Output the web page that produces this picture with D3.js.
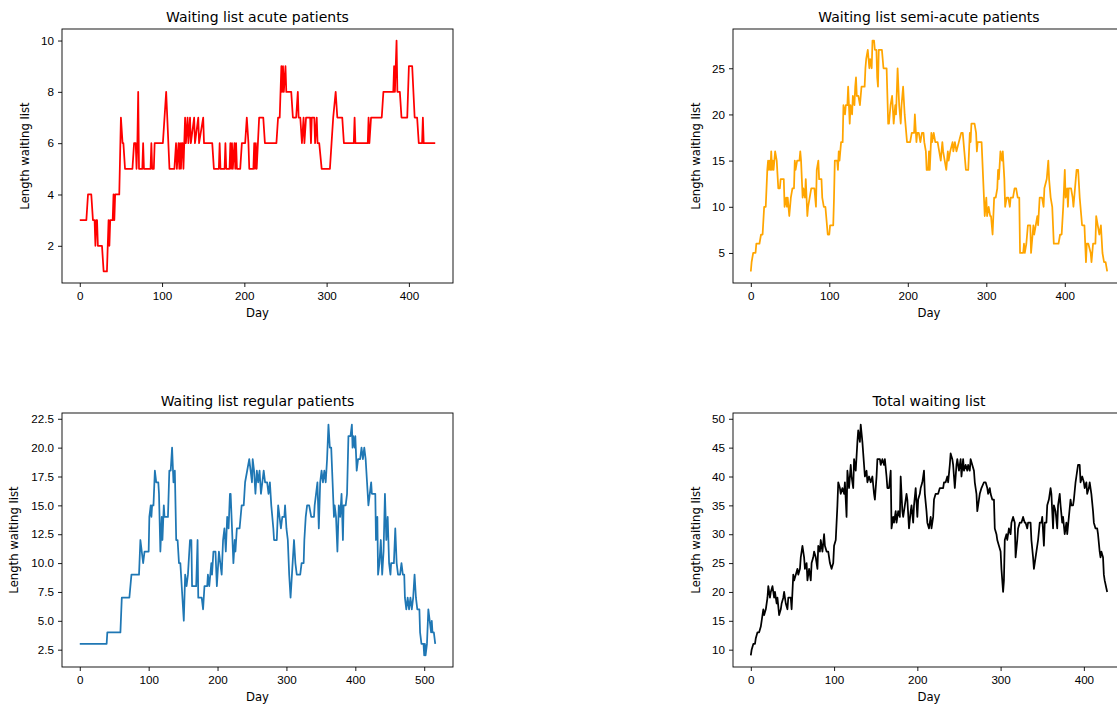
<!DOCTYPE html>
<html>
<head>
<meta charset="utf-8">
<script src="https://cdn.jsdelivr.net/npm/d3@7"></script>
<style>
  body { margin: 0; background: #fff; }
  svg { display: block; font-family: "DejaVu Sans", sans-serif; }
  .tick line { stroke: #000; stroke-width: 0.9; }
  .tick text { fill: #000; font-size: 11.67px; }
</style>
</head>
<body>
<div id="chart"></div>
<script>
// [day, length] points
var acute = [[0,3],[8,3],[10,4],[14,4],[16,3],[18,3],[19,2],[20,3],[21,3],[22,2],[27,2],[29,1],[33,1],[35,3],[36,2],[37,3],[40,3],[41,4],[42,3],[43,4],[48,4],[50,7],[52,6],[53,6],[55,5],[64,5],[66,6],[68,6],[69,5],[70,6],[71,8],[72,5],[76,5],[77,6],[78,5],[86,5],[87,6],[88,5],[90,5],[91,6],[101,6],[105,8],[109,5],[115,5],[117,6],[118,5],[120,6],[121,5],[122,6],[123,5],[124,6],[125,6],[126,5],[128,7],[129,6],[131,7],[132,6],[134,7],[135,6],[139,7],[140,6],[144,7],[145,6],[150,7],[151,6],[161,6],[163,5],[169,5],[170,6],[171,5],[176,5],[177,6],[178,5],[182,5],[183,6],[184,5],[185,6],[186,5],[188,6],[189,5],[190,6],[191,5],[195,5],[197,6],[201,6],[203,7],[205,6],[206,5],[211,5],[212,6],[213,5],[214,6],[215,5],[218,7],[223,7],[225,6],[239,6],[241,7],[243,7],[245,9],[246,8],[247,9],[248,8],[250,9],[251,8],[257,8],[259,7],[263,7],[265,8],[266,7],[268,7],[270,6],[272,7],[273,6],[275,7],[280,7],[281,6],[282,7],[285,7],[286,6],[288,7],[289,6],[291,6],[294,5],[304,5],[306,6],[308,7],[311,8],[313,7],[319,7],[321,6],[333,6],[334,7],[335,6],[350,6],[351,7],[352,6],[354,7],[367,7],[369,8],[381,8],[382,9],[383,8],[384,9],[385,10],[386,8],[389,8],[391,7],[398,7],[400,9],[404,9],[407,7],[410,7],[412,6],[416,6],[417,7],[418,6],[432,6]];

var semiAcute = [[0,3],[1,4],[3,5],[6,5],[7,6],[11,6],[13,7],[15,7],[17,10],[19,10],[21,14],[22,15],[23,14],[24,15],[25,14],[26,16],[27,14],[28,15],[29,14],[31,16],[33,15],[35,12],[37,12],[38,13],[42,13],[43,10],[45,11],[46,10],[47,11],[49,9],[51,11],[53,12],[55,12],[56,15],[57,14],[59,15],[62,15],[63,16],[64,15],[66,11],[67,12],[69,11],[70,13],[72,9],[73,10],[75,11],[77,12],[81,12],[83,10],[84,14],[86,15],[87,13],[90,13],[91,11],[93,10],[95,10],[98,7],[100,7],[101,8],[105,8],[106,11],[107,15],[110,15],[111,14],[112,16],[113,15],[115,17],[117,17],[118,21],[120,20],[121,21],[123,21],[124,23],[126,19],[127,21],[129,20],[130,22],[132,21],[133,23],[134,24],[135,22],[137,22],[139,21],[141,23],[145,23],[146,25],[147,26],[149,27],[151,25],[152,26],[154,25],[155,28],[157,28],[158,27],[160,27],[161,24],[162,23],[163,27],[167,27],[169,25],[173,25],[175,19],[176,19],[178,21],[180,22],[182,19],[184,21],[185,20],[187,25],[189,21],[191,19],[192,21],[194,23],[196,20],[197,19],[199,17],[203,17],[205,18],[208,18],[209,20],[211,17],[212,18],[214,18],[216,17],[218,18],[220,18],[221,17],[223,16],[224,14],[226,14],[227,16],[228,14],[230,18],[231,17],[233,18],[235,17],[238,17],[240,16],[242,15],[244,17],[245,16],[247,15],[249,14],[251,16],[252,15],[254,16],[257,17],[258,16],[260,17],[262,16],[265,17],[268,18],[270,18],[272,16],[274,14],[277,14],[279,18],[280,17],[281,19],[285,19],[287,18],[288,16],[289,17],[294,17],[295,15],[297,11],[298,9],[300,11],[301,9],[303,10],[305,9],[306,9],[308,7],[310,11],[312,11],[314,12],[315,14],[316,13],[318,16],[320,15],[321,16],[323,13],[324,10],[326,11],[328,11],[330,10],[331,11],[334,11],[336,12],[338,12],[340,11],[342,11],[343,5],[347,5],[348,6],[349,5],[351,6],[353,8],[356,8],[357,5],[360,8],[361,7],[363,8],[365,9],[366,8],[368,11],[371,11],[373,10],[374,12],[377,13],[379,15],[380,13],[382,11],[384,10],[386,6],[392,6],[394,7],[396,7],[398,10],[400,14],[401,11],[403,12],[404,10],[405,12],[408,12],[410,11],[411,10],[413,12],[415,14],[417,14],[419,11],[421,9],[422,8],[425,8],[427,4],[428,6],[430,6],[433,5],[434,4],[436,6],[439,6],[440,9],[442,8],[444,7],[446,8],[448,5],[450,4],[452,4],[454,3]];

var regular = [[0,3],[39,3],[40,4],[59,4],[61,7],[72,7],[75,9],[86,9],[88,12],[90,11],[92,10],[94,11],[100,11],[101,14],[103,15],[104,14],[105,15],[107,15],[109,18],[111,17],[114,17],[115,16],[117,11],[119,14],[120,12],[122,15],[123,14],[128,14],[130,18],[132,18],[134,20],[136,17],[138,18],[140,12],[142,12],[144,10],[146,10],[148,8],[149,7],[151,5],[153,9],[155,8],[157,9],[158,10],[160,12],[162,12],[163,8],[169,8],[171,12],[172,7],[177,7],[179,6],[181,8],[185,8],[186,9],[188,8],[191,10],[192,9],[194,11],[197,11],[199,8],[202,11],[204,10],[206,9],[208,12],[210,13],[212,11],[214,14],[216,13],[218,16],[219,16],[221,13],[223,10],[225,12],[226,11],[228,13],[232,13],[235,15],[238,15],[240,17],[243,18],[246,19],[248,18],[250,17],[251,19],[253,18],[255,16],[257,18],[259,17],[261,18],[263,16],[265,17],[267,18],[269,17],[272,17],[274,16],[276,17],[278,15],[281,13],[282,12],[286,12],[288,15],[290,14],[292,13],[294,14],[297,14],[298,15],[300,13],[302,12],[304,9],[306,7],[308,9],[310,11],[311,12],[313,10],[315,9],[320,9],[322,10],[325,10],[326,12],[328,14],[330,15],[333,15],[336,14],[340,14],[341,15],[343,16],[345,17],[347,13],[349,17],[351,18],[353,17],[355,18],[357,17],[359,19],[361,22],[363,20],[365,20],[367,17],[369,14],[370,15],[372,14],[374,11],[376,15],[378,14],[380,16],[382,12],[383,15],[386,15],[388,16],[390,21],[393,21],[395,22],[396,20],[397,21],[399,20],[400,21],[402,18],[404,19],[407,19],[409,20],[411,19],[413,20],[415,19],[417,17],[419,15],[421,16],[423,17],[424,16],[429,16],[430,12],[432,14],[433,9],[435,10],[437,12],[439,9],[441,11],[443,16],[445,12],[447,14],[449,10],[451,9],[452,10],[456,10],[458,13],[460,10],[462,9],[465,9],[467,10],[469,9],[471,9],[472,7],[474,6],[476,7],[478,6],[480,7],[482,6],[484,7],[486,9],[488,7],[490,6],[493,6],[494,4],[496,3],[499,3],[500,2],[501,3],[502,2],[504,3],[506,6],[508,5],[510,4],[511,5],[512,4],[514,4],[516,3]];

var total = [[0,9],[1,10],[3,11],[5,11],[6,12],[8,13],[10,13],[12,14],[13,15],[15,17],[16,16],[18,17],[20,19],[21,21],[23,19],[24,20],[26,21],[28,19],[29,20],[31,18],[32,19],[34,16],[36,17],[37,18],[39,19],[40,20],[42,18],[44,17],[45,19],[48,19],[49,17],[51,23],[52,22],[54,23],[56,24],[57,23],[59,24],[60,26],[62,28],[64,26],[65,24],[67,25],[68,22],[70,24],[72,22],[73,25],[75,26],[76,27],[78,26],[80,24],[81,28],[83,27],[84,29],[86,27],[88,30],[89,28],[91,27],[93,27],[95,25],[97,24],[99,25],[100,28],[102,29],[104,35],[105,39],[107,38],[108,37],[110,38],[112,37],[113,39],[115,33],[116,41],[118,38],[120,42],[121,40],[123,38],[124,43],[126,41],[128,46],[129,48],[131,46],[132,49],[134,46],[136,42],[137,40],[139,41],[140,39],[142,40],[144,39],[146,40],[148,37],[149,36],[151,40],[152,43],[155,43],[156,42],[158,43],[160,42],[161,43],[163,40],[164,38],[166,38],[168,41],[169,31],[171,33],[172,32],[174,34],[175,32],[177,34],[179,33],[180,40],[182,34],[183,33],[185,35],[187,37],[188,36],[190,31],[192,34],[193,35],[195,32],[196,35],[198,38],[200,33],[201,36],[203,37],[204,38],[206,39],[208,41],[209,37],[211,34],[212,32],[214,31],[216,33],[217,31],[219,33],[220,36],[222,37],[225,37],[227,38],[231,38],[232,39],[234,39],[236,40],[237,39],[239,42],[240,44],[242,43],[243,42],[245,38],[247,42],[248,43],[250,41],[252,43],[253,40],[255,43],[256,41],[258,42],[260,41],[261,42],[263,41],[264,43],[266,42],[268,41],[269,39],[271,37],[272,34],[274,36],[275,37],[277,38],[280,39],[282,39],[284,38],[285,37],[287,38],[288,37],[290,36],[292,36],[293,31],[295,30],[296,29],[298,28],[300,27],[301,24],[303,20],[304,22],[305,29],[307,30],[308,29],[310,31],[312,30],[313,32],[315,33],[317,32],[318,26],[320,29],[321,31],[323,32],[325,32],[327,33],[329,32],[330,32],[332,31],[333,32],[336,32],[337,29],[339,26],[340,24],[342,26],[343,27],[345,29],[347,32],[349,32],[350,33],[352,28],[353,32],[355,32],[356,35],[358,36],[360,38],[361,37],[363,31],[364,35],[366,34],[368,31],[369,35],[371,37],[372,35],[374,32],[375,33],[377,30],[379,32],[380,30],[382,33],[384,36],[385,35],[387,35],[388,36],[390,39],[391,40],[393,42],[395,42],[396,39],[398,40],[400,39],[401,38],[403,39],[404,37],[406,38],[407,39],[409,37],[411,34],[412,32],[414,31],[416,31],[417,30],[419,27],[420,26],[421,27],[423,26],[424,23],[425,22],[428,20]];

var titles = ["Waiting list acute patients", "Waiting list semi-acute patients",
              "Waiting list regular patients", "Total waiting list"];
var colors = ["#ff0000", "#ffa500", "#1f77b4", "#000000"];
var yTicks = [[2, 4, 6, 8, 10], [5, 10, 15, 20, 25],
              [2.5, 5, 7.5, 10, 12.5, 15, 17.5, 20, 22.5], [10, 15, 20, 25, 30, 35, 40, 45, 50]];
var xTicks = [[0, 100, 200, 300, 400], [0, 100, 200, 300, 400],
              [0, 100, 200, 300, 400, 500], [0, 100, 200, 300, 400]];

var width = 1117;
var height = 704;

var svg = d3.select("#chart")
  .append("svg")
    .attr("width", width)
    .attr("height", height);

// panel boxes (the right column runs past the window edge, like the original)
var panels = [
  { data: acute,     left: 62,  top: 29,  w: 391, h: 254, labelOff: 33 },
  { data: semiAcute, left: 733, top: 29,  w: 392, h: 254, labelOff: 33 },
  { data: regular,   left: 62,  top: 413, w: 391, h: 254, labelOff: 44 },
  { data: total,     left: 733, top: 413, w: 392, h: 254, labelOff: 33 }
];

// matplotlib style 5% margin on each side
function padded(ext) {
  var m = (ext[1] - ext[0]) * 0.05;
  return [ext[0] - m, ext[1] + m];
}

panels.forEach(function(p, i) {
  var x = d3.scaleLinear()
      .domain(padded(d3.extent(p.data, function(d) { return d[0]; })))
      .range([0, p.w]);
  var y = d3.scaleLinear()
      .domain(padded(d3.extent(p.data, function(d) { return d[1]; })))
      .range([p.h, 0]);

  var g = svg.append("g")
      .attr("transform", "translate(" + p.left + "," + p.top + ")");

  var line = d3.line()
      .x(function(d) { return x(d[0]); })
      .y(function(d) { return y(d[1]); });

  g.append("path")
      .datum(p.data)
      .attr("fill", "none")
      .attr("stroke", colors[i])
      .attr("stroke-width", 1.75)
      .attr("stroke-linejoin", "round")
      .attr("d", line);

  // frame
  g.append("rect")
      .attr("width", p.w)
      .attr("height", p.h)
      .attr("fill", "none")
      .attr("stroke", "#000")
      .attr("stroke-width", 0.9);

  g.append("g")
      .attr("transform", "translate(0," + p.h + ")")
      .call(d3.axisBottom(x).tickValues(xTicks[i]).tickSize(4).tickPadding(4.5)
        .tickFormat(d3.format("d")));

  g.append("g")
      .call(d3.axisLeft(y).tickValues(yTicks[i]).tickSize(4).tickPadding(4)
        .tickFormat(i == 2 ? d3.format(".1f") : d3.format("d")));

  g.selectAll(".domain").remove();

  g.append("text")
      .attr("x", p.w / 2)
      .attr("y", -7)
      .attr("text-anchor", "middle")
      .style("font-size", "14px")
      .text(titles[i]);

  g.append("text")
      .attr("x", p.w / 2)
      .attr("y", p.h + 34)
      .attr("text-anchor", "middle")
      .style("font-size", "11.67px")
      .text("Day");

  g.append("text")
      .attr("transform", "translate(" + (-p.labelOff) + "," + (p.h / 2) + ") rotate(-90)")
      .attr("text-anchor", "middle")
      .style("font-size", "11.67px")
      .text("Length waiting list");
});
</script>
</body>
</html>
